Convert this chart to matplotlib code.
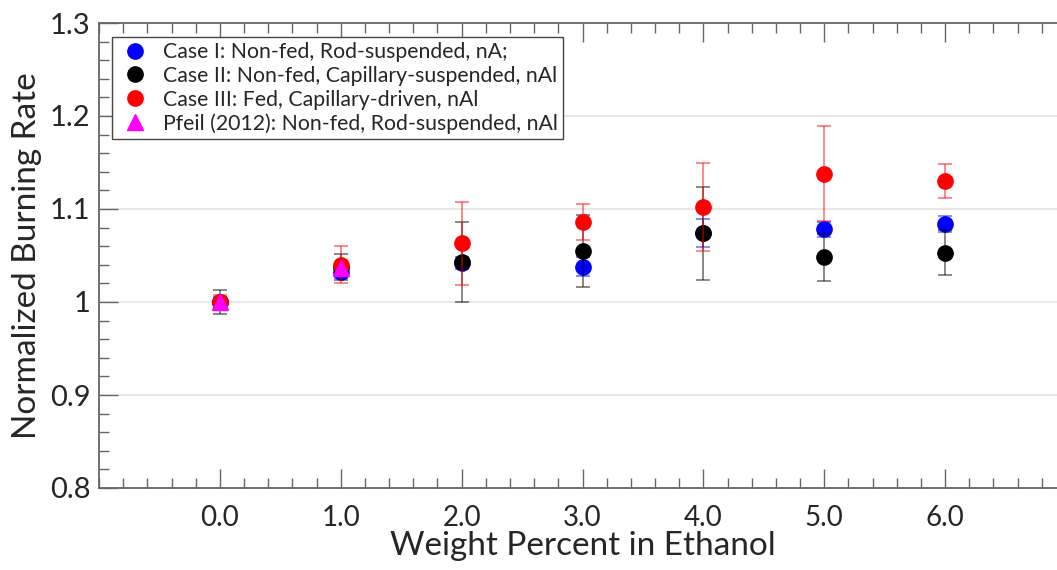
import matplotlib
matplotlib.use("Agg")
import matplotlib.pyplot as plt
from matplotlib.ticker import MultipleLocator
from matplotlib.lines import Line2D

plt.rcParams['font.family'] = ['Lato', 'DejaVu Sans']

# Data
x_vals = [0, 1, 2, 3, 4, 5, 6]
case1 = [1.000, 1.032, 1.042, 1.038, 1.074, 1.078, 1.084]
case1_err = [0.005, 0.006, 0.006, 0.010, 0.015, 0.008, 0.009]
case2 = [1.000, 1.038, 1.043, 1.055, 1.074, 1.048, 1.053]
case2_err = [0.013, 0.014, 0.043, 0.039, 0.050, 0.025, 0.024]
case3 = [1.000, 1.040, 1.063, 1.086, 1.102, 1.138, 1.130]
case3_err = [0.008, 0.020, 0.045, 0.019, 0.047, 0.051, 0.018]
pfeil_x = [0, 1]
pfeil = [1.000, 1.037]

labels = ["Case I: Non-fed, Rod-suspended, nA;",
          "Case II: Non-fed, Capillary-suspended, nAl",
          "Case III: Fed, Capillary-driven, nAl",
          "Pfeil (2012): Non-fed, Rod-suspended, nAl"]
colors = ['#0000ff', '#000000', '#ff0000', '#ff00ff']
xtick_vals = [0, 1, 2, 3, 4, 5, 6]
xtick_labels = ["0.0", "1.0", "2.0", "3.0", "4.0", "5.0", "6.0"]
ytick_vals = [0.8, 0.9, 1.0, 1.1, 1.2, 1.3]
ytick_labels = ["0.8", "0.9", "1", "1.1", "1.2", "1.3"]

fig = plt.figure(figsize=(10.57, 5.70), dpi=100)
ax = fig.add_axes([99/1057, 82/570, 967/1057, 465/570])

ms = 11
cap = 5
common = dict(fmt='o', markersize=ms, capsize=cap, elinewidth=1.3, capthick=1.3, linestyle='none')

def eb(x, y, e, color, z):
    c = ax.errorbar(x, y, yerr=e, color=color, ecolor=color, zorder=z, **common)
    for l in c[1]:
        l.set_alpha(0.5)
    for l in c[2]:
        l.set_alpha(0.5)
    return c

eb(x_vals, case1, case1_err, colors[0], 3)
eb(x_vals, case2, case2_err, colors[1], 4)
eb(x_vals, case3, case3_err, colors[2], 5)
ax.plot(pfeil_x, pfeil, linestyle='none', marker='^', color=colors[3], markersize=ms, zorder=6)

ax.set_xlim(-1, 7)
ax.set_ylim(0.8, 1.3)
ax.set_xticks(xtick_vals, xtick_labels)
ax.xaxis.set_minor_locator(MultipleLocator(0.2))
ax.set_yticks(ytick_vals, ytick_labels)
ax.yaxis.set_minor_locator(MultipleLocator(0.02))

for gy in [0.9, 1.0, 1.1, 1.2]:
    ax.axhline(gy, color='#e8e8e8', lw=1.5, zorder=0)

axis_col = '#666666'
for s in ax.spines.values():
    s.set_color(axis_col)
    s.set_linewidth(1.3)
ax.spines['right'].set_visible(False)

ax.tick_params(which='both', direction='in', top=True, right=False, colors=axis_col, labelcolor='#262626', width=1.0)
ax.tick_params(which='major', length=14, labelsize=21)
ax.tick_params(axis='x', which='major', pad=12, labelsize=20)
ax.tick_params(axis='y', which='major', pad=6)
ax.tick_params(which='minor', length=7)

ax.set_xlabel("Weight Percent in Ethanol", fontsize=24, color='#262626', labelpad=0)
ax.set_ylabel("Normalized Burning Rate", fontsize=24, color='#262626', labelpad=6)

markers = ['o', 'o', 'o', '^']
handles = [Line2D([], [], linestyle='none', marker=m, color=c, markersize=ms) for m, c in zip(markers, colors)]
leg = ax.legend(handles, labels, loc='upper left', bbox_to_anchor=(13/967, 1 - 14/465), fontsize=15.3,
                frameon=True, fancybox=False, framealpha=1, edgecolor='#444444',
                borderpad=0.25, labelspacing=0.17, handletextpad=0.45, handlelength=1.7,
                borderaxespad=0)
leg.get_frame().set_linewidth(1.0)
for t in leg.get_texts():
    t.set_color('#262626')

fig.savefig("out.png", dpi=100)
